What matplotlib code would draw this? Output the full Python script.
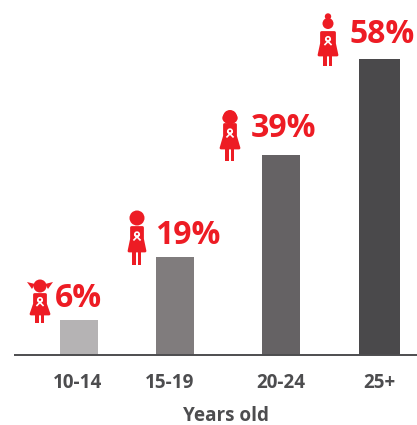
import matplotlib
matplotlib.use('Agg')
import matplotlib.pyplot as plt
from matplotlib.patches import Circle, Polygon, Rectangle, Ellipse

W, H = 417, 425
BASE = 354.5
RED = '#ed1c24'
DARK = '#4d4d4f'

categories = ['10-14', '15-19', '20-24', '25+']
percent_labels = ['6%', '19%', '39%', '58%']
# bar heights (the first bar is drawn a bit taller than 6)
bar_values = [6.7, 19.1, 39.2, 58]
bar_colors = ['#b5b3b4', '#807c7d', '#656264', '#4a494b']

plt.rcParams['font.family'] = ['Open Sans', 'DejaVu Sans']

fig = plt.figure(figsize=(W / 100, H / 100), dpi=100)
fig.patch.set_facecolor('white')

# main axes, x in pixels, y in percent
ax = fig.add_axes([0, (H - BASE) / H, 1, BASE / H])
ax.set_xlim(0, W)
ax.set_ylim(0, BASE / 5.09)
ax.patch.set_alpha(0)

bar_centers = [79, 175, 281, 379.5]
bar_widths = [38, 38, 38, 41]
ax.bar(bar_centers, bar_values, width=bar_widths, color=bar_colors, linewidth=0)

for s in ['top', 'right', 'left', 'bottom']:
    ax.spines[s].set_visible(False)
ax.plot([14, W], [0, 0], color=DARK, lw=1.4, clip_on=False, solid_capstyle='butt')

ax.set_yticks([])
ax.set_xticks([78, 170, 281, 379])
ax.set_xticklabels(categories, fontsize=13.6, fontweight='bold', color=DARK)
ax.tick_params(axis='x', length=0, pad=13)

# overlay in pixel coordinates for the pictograms and the red numbers
ov = fig.add_axes([0, 0, 1, 1])
ov.set_xlim(0, W)
ov.set_ylim(H, 0)
ov.axis('off')
ov.patch.set_alpha(0)

ov.text(226, 421, 'Years old', ha='center', va='baseline', fontsize=13.6,
        fontweight='bold', color=DARK)

label_spots = [(55, 307), (155, 244), (251, 137), (350, 43)]
for (lx, ly), txt in zip(label_spots, percent_labels):
    ov.text(lx, ly, txt, ha='left', va='baseline', fontsize=23,
            fontweight='bold', color=RED)


def draw_girl(cx, head_y, r, top, bottom, feet, half_top, half_bot, hair=None):
    ov.add_patch(Circle((cx, head_y), r, color=RED, lw=0))
    # rounded shoulders come from the thick round-joined edge
    ov.add_patch(Polygon([(cx - half_top + 1.5, top + 1.5), (cx + half_top - 1.5, top + 1.5),
                          (cx + half_top - 1.5, top + (bottom - top) * 0.5),
                          (cx + half_bot - 1, bottom - 1), (cx - half_bot + 1, bottom - 1),
                          (cx - half_top + 1.5, top + (bottom - top) * 0.5)],
                         closed=True, fc=RED, ec=RED, lw=2, joinstyle='round'))
    # legs
    ov.add_patch(Rectangle((cx - 4.5, bottom - 1), 3.8, feet - bottom + 1, color=RED, lw=0))
    ov.add_patch(Rectangle((cx + 0.7, bottom - 1), 3.8, feet - bottom + 1, color=RED, lw=0))
    # ribbon
    ry = top + (bottom - top) * 0.36
    ov.add_patch(Circle((cx, ry - 1), 2.2, fill=False, ec='white', lw=1.2))
    ov.plot([cx - 3, cx + 2], [ry + 4.5, ry - 0.5], color='white', lw=1.2)
    ov.plot([cx + 3, cx - 2], [ry + 4.5, ry - 0.5], color='white', lw=1.2)
    if hair == 'pigtails':
        ov.add_patch(Polygon([(cx - 5, head_y - 2), (cx - 13, head_y - 4), (cx - 8, head_y + 3)],
                             closed=True, color=RED, lw=0))
        ov.add_patch(Polygon([(cx + 5, head_y - 2), (cx + 13, head_y - 4), (cx + 8, head_y + 3)],
                             closed=True, color=RED, lw=0))
    elif hair == 'short':
        ov.add_patch(Ellipse((cx, head_y + 1), r * 2.2, r * 1.7, color=RED, lw=0))
    elif hair == 'bun':
        ov.add_patch(Circle((cx, head_y - r - 1.5), 3.2, color=RED, lw=0))


draw_girl(40, 286, 6.5, 293, 315, 323, 7, 10, 'pigtails')
draw_girl(137, 218, 7.5, 226, 252, 265, 7, 9)
draw_girl(230, 117, 7, 123, 149, 161, 7, 10, 'short')
draw_girl(328, 23.5, 5.5, 31, 56, 66, 8, 10, 'bun')

fig.savefig('out.png', dpi=100)
